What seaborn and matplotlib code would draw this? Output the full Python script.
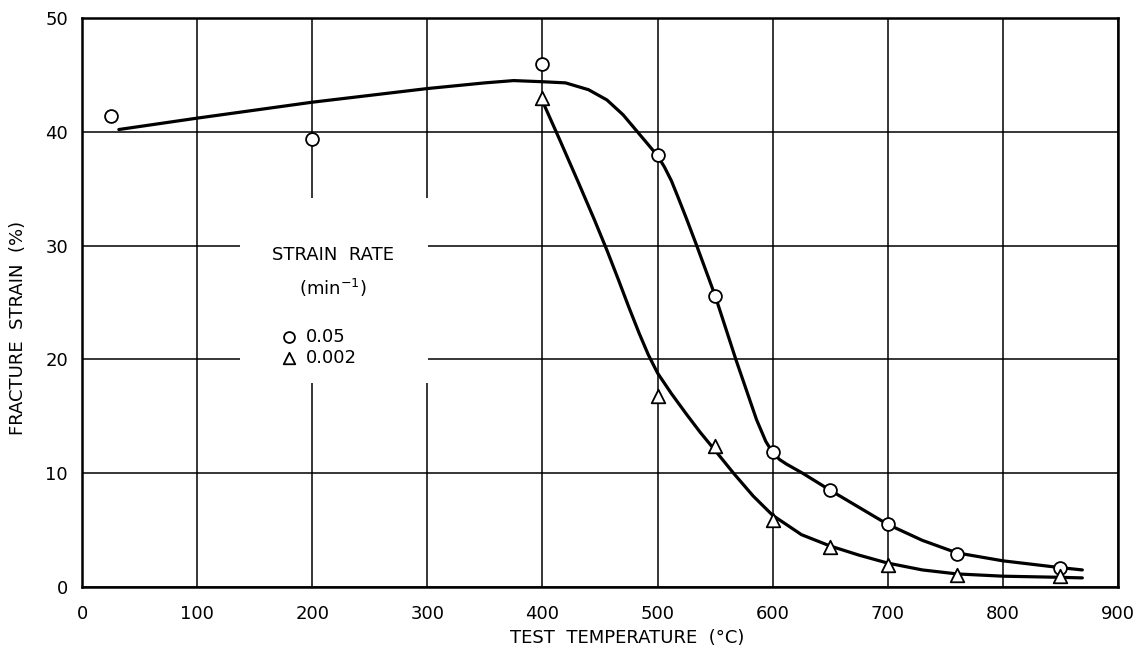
import matplotlib
matplotlib.use("Agg")
import matplotlib.pyplot as plt
import pandas as pd
import seaborn as sns
from matplotlib.patches import Rectangle

# ---------------- data ----------------
temp_fast = [25, 200, 400, 500, 550, 600, 650, 700, 760, 850]
strain_fast = [41.4, 39.4, 46.0, 38.0, 25.6, 11.9, 8.5, 5.5, 2.9, 1.7]

temp_slow = [400, 500, 550, 600, 650, 700, 760, 850]
strain_slow = [43.0, 16.8, 12.4, 5.9, 3.5, 1.9, 1.05, 0.95]

# hand-drawn trend curves
curve_fast_x = [32, 100, 200, 300, 350, 375, 400, 420, 440, 456, 470, 480, 490,
                500, 506, 512, 518, 525, 534, 550, 568, 586, 594, 600, 606, 612,
                626, 650, 675, 700, 730, 760, 800, 850, 869]
curve_fast_y = [40.2, 41.2, 42.6, 43.8, 44.3, 44.5, 44.4, 44.3, 43.7, 42.8, 41.5,
                40.3, 39.1, 37.9, 36.9, 35.7, 34.2, 32.4, 30.0, 25.6, 20.0, 14.7,
                12.8, 11.8, 11.2, 10.8, 10.0, 8.5, 7.0, 5.5, 4.1, 3.0, 2.3, 1.7, 1.5]

curve_slow_x = [400, 415, 431, 445, 456, 466, 475, 484, 492, 500, 512, 525, 537,
                550, 566, 583, 600, 625, 650, 675, 700, 730, 760, 800, 850, 869]
curve_slow_y = [42.7, 39.3, 35.6, 32.3, 29.6, 27.0, 24.6, 22.3, 20.4, 18.8, 17.0,
                15.2, 13.6, 12.0, 10.0, 8.0, 6.3, 4.6, 3.6, 2.8, 2.1, 1.5, 1.15,
                0.95, 0.85, 0.8]

rate_labels = ["0.05", "0.002"]
x_ticks = [0, 100, 200, 300, 400, 500, 600, 700, 800, 900]
y_ticks = [0, 10, 20, 30, 40, 50]

# ---------------- style ----------------
sns.set_theme(style="white")
plt.rcParams["font.family"] = ["DejaVu Sans"]
plt.rcParams["mathtext.default"] = "regular"

fig = plt.figure(figsize=(11.48, 6.54), dpi=100)
ax = fig.add_axes([0.07143, 0.10245, 0.90244, 0.87003])

pts_fast = pd.DataFrame({"temp": temp_fast, "strain": strain_fast})
pts_slow = pd.DataFrame({"temp": temp_slow, "strain": strain_slow})
cur_fast = pd.DataFrame({"temp": curve_fast_x, "strain": curve_fast_y})
cur_slow = pd.DataFrame({"temp": curve_slow_x, "strain": curve_slow_y})

sns.lineplot(data=cur_fast, x="temp", y="strain", ax=ax, color="black",
             linewidth=2.3, sort=False, estimator=None, zorder=3)
sns.lineplot(data=cur_slow, x="temp", y="strain", ax=ax, color="black",
             linewidth=2.3, sort=False, estimator=None, zorder=3)

sns.scatterplot(data=pts_fast, x="temp", y="strain", ax=ax, marker="o", s=85,
                facecolor="white", edgecolor="black", linewidth=1.3,
                label=rate_labels[0], zorder=4)
sns.scatterplot(data=pts_slow, x="temp", y="strain", ax=ax, marker="^", s=95,
                facecolor="white", edgecolor="black", linewidth=1.3,
                label=rate_labels[1], zorder=4)

ax.set_xlim(0, 900)
ax.set_ylim(0, 50)
ax.set_xticks(x_ticks)
ax.set_yticks(y_ticks)
ax.set_xticklabels([str(v) for v in x_ticks])
ax.set_yticklabels([str(v) for v in y_ticks])

ax.set_axisbelow(True)
ax.grid(True, color="black", linewidth=1.1)
for sp in ax.spines.values():
    sp.set_visible(True)
    sp.set_color("black")
    sp.set_linewidth(1.8)

ax.tick_params(axis="x", length=0, pad=13, labelsize=13, colors="black")
ax.tick_params(axis="y", length=0, pad=10, labelsize=13, colors="black")

ax.set_xlabel("TEST  TEMPERATURE  (°C)", fontsize=13, color="black")
ax.set_ylabel("FRACTURE  STRAIN  (%)", fontsize=13, color="black")
ax.xaxis.set_label_coords(0.526, -0.074)
ax.yaxis.set_label_coords(-0.053, 0.455)

# white panel under the in-plot legend (hides grid lines)
ax.add_patch(Rectangle((0.1525, 0.3585), 0.1815, 0.325, transform=ax.transAxes,
                       facecolor="white", edgecolor="none", zorder=1.5))

ax.text(0.2423, 0.5835, "STRAIN  RATE", transform=ax.transAxes, ha="center",
        va="center", fontsize=13, color="black", zorder=5)
ax.text(0.2423, 0.5255, "(min$^{-1}$)", transform=ax.transAxes, ha="center",
        va="center", fontsize=13, color="black", zorder=5)

leg = ax.legend(loc="center left", bbox_to_anchor=(0.193, 0.421), frameon=False,
                fontsize=13, handlelength=0.8, handletextpad=0.5, markerscale=0.85,
                borderpad=0, borderaxespad=0, labelspacing=0.15)
for t in leg.get_texts():
    t.set_color("black")

fig.savefig("out.png", dpi=100)
